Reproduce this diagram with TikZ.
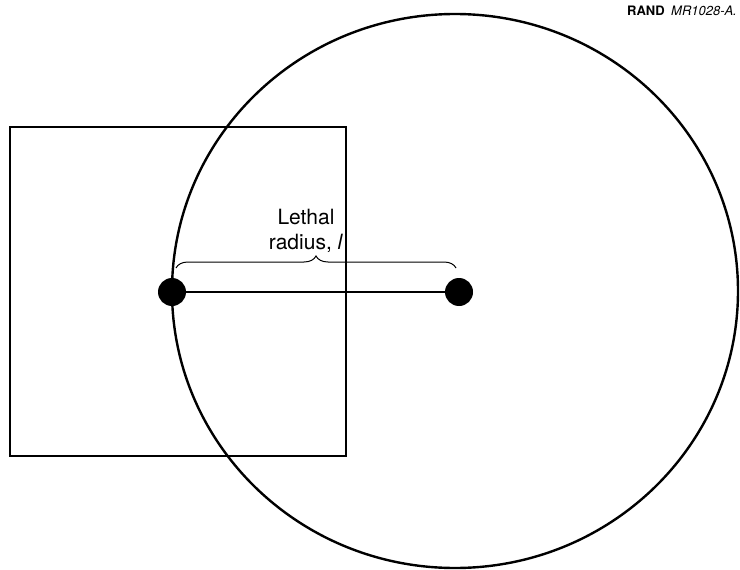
\documentclass[tikz,border=0pt]{standalone}
\usepackage{fontspec}
\setmainfont{TeX Gyre Heros}
\usepackage{tikz}
\usetikzlibrary{decorations.pathreplacing,positioning}

\tikzset{
  blob/.style={circle,fill=black,inner sep=0pt,minimum size=28pt},
  outline/.style={line width=2.4pt}
}

\begin{document}
\begin{tikzpicture}[x=1pt,y=-1pt]
  \useasboundingbox (0,0) rectangle (740,570);
  % target area and lethal circle
  \draw[outline] (10,127) rectangle (346,456);
  \draw[outline] (455,291) ellipse [x radius=283,y radius=277];
  % aim point and impact point
  \node[blob] (hit) at (172,292) {};
  \node[blob] (aim) at (459,292) {};
  \draw[outline] (hit) -- (aim);
  \draw[line width=1pt,decorate,decoration={brace,amplitude=12pt}]
       (176,268) -- (456,268);
  \node[align=center,font=\fontsize{21}{25}\selectfont] (lbl) at (306,231)
       {Lethal\\radius, \textit{l}};
  \node[anchor=north east,inner sep=0pt,font=\fontsize{13}{15}\selectfont] (tag) at (737,6)
       {\textbf{RAND}\enspace\textit{MR1028-A.}};
\end{tikzpicture}
\end{document}
